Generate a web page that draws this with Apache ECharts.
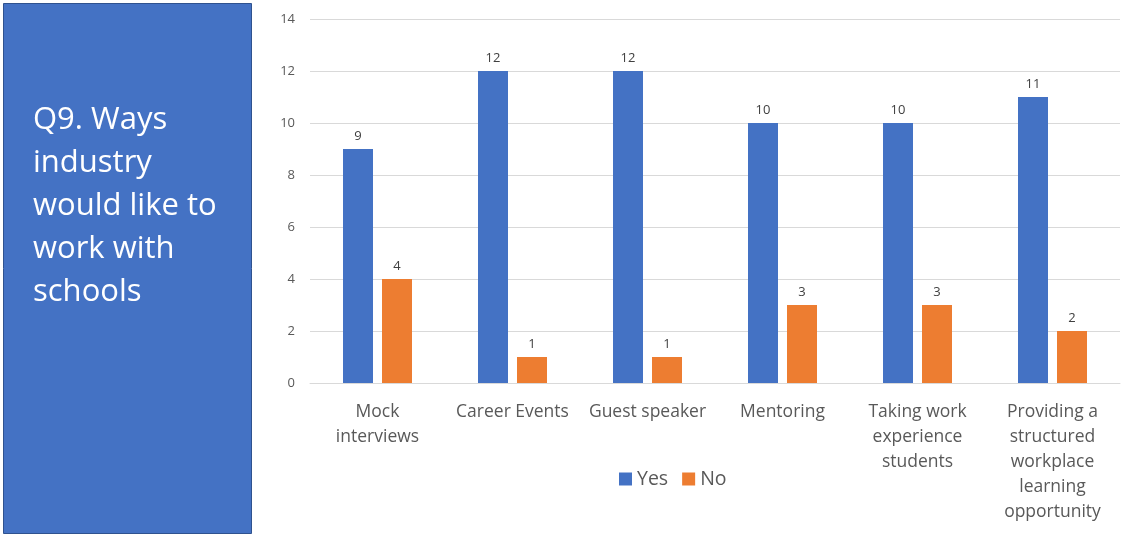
<!DOCTYPE html>
<html><head><meta charset="utf-8">
<script src="https://cdn.jsdelivr.net/npm/echarts@6/dist/echarts.min.js"></script>
<style>html,body{margin:0;padding:0;background:#fff}#c{width:1121px;height:535px}</style>
</head><body><div id="c"></div>
<script>
const categories = ["Mock\ninterviews", "Career Events", "Guest speaker", "Mentoring", "Taking work\nexperience\nstudents", "Providing a\nstructured\nworkplace\nlearning\nopportunity"];
const yesValues = [9, 12, 12, 10, 10, 11];
const noValues = [4, 1, 1, 3, 3, 2];
const yTicks = [0, 2, 4, 6, 8, 10, 12, 14];
const titleLines = ["Q9. Ways", "industry", "would like to", "work with", "schools"];

const FONT = '"Open Sans", Lato, sans-serif';
const chart = echarts.init(document.getElementById('c'), null, {renderer: 'canvas'});
const labelStyle = {show: true, position: 'top', color: '#404040', fontSize: 13, fontFamily: FONT, distance: 6};
chart.setOption({
  animation: false,
  textStyle: {fontFamily: FONT},
  grid: {left: 310, right: 1, top: 19, bottom: 152, containLabel: false},
  legend: {
    data: ['Yes', 'No'], left: 614, top: 464, itemWidth: 13, itemHeight: 13, itemGap: 14,
    icon: 'rect', textStyle: {fontSize: 19.5, color: '#595959', fontFamily: FONT}
  },
  xAxis: {
    type: 'category', data: categories,
    axisLine: {lineStyle: {color: '#d9d9d9'}}, axisTick: {show: false},
    axisLabel: {color: '#595959', fontSize: 17.5, fontFamily: FONT, margin: 17, lineHeight: 25, interval: 0}
  },
  yAxis: {
    type: 'value', min: yTicks[0], max: yTicks[yTicks.length - 1], interval: 2,
    axisLine: {show: false}, axisTick: {show: false},
    axisLabel: {color: '#595959', fontSize: 13, fontFamily: FONT, margin: 15},
    splitLine: {lineStyle: {color: '#d9d9d9'}}
  },
  series: [
    {name: 'Yes', type: 'bar', data: yesValues, barWidth: 30, barGap: '30%', itemStyle: {color: '#4472C4'}, label: labelStyle},
    {name: 'No', type: 'bar', data: noValues, barWidth: 30, itemStyle: {color: '#ED7D31'}, label: labelStyle}
  ],
  graphic: [
    {type: 'rect', shape: {x: 3.5, y: 3.5, width: 248, height: 530}, style: {fill: '#4472C4', stroke: '#2F528F', lineWidth: 1}},
    {type: 'text', left: 33, top: 99, style: {text: titleLines.join('\n'), fill: '#ffffff', font: '31px ' + FONT, lineHeight: 43}}
  ]
});
</script></body></html>
